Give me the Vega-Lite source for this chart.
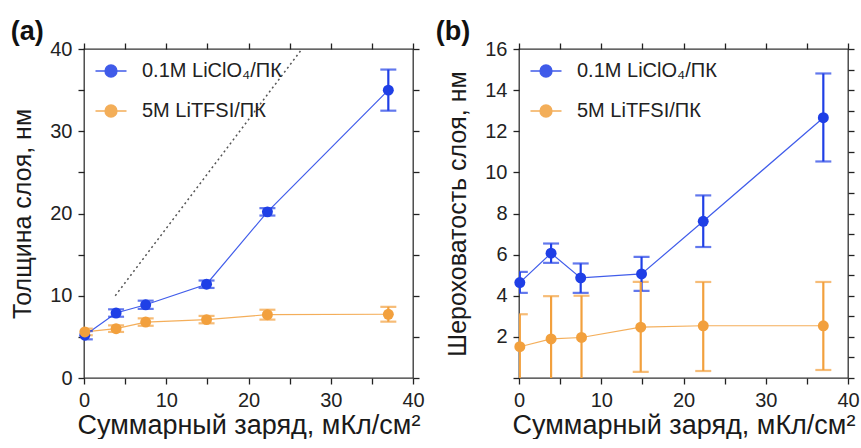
{
  "$schema": "https://vega.github.io/schema/vega-lite/v6.json",
  "padding": {"left": 10, "top": 17, "right": 0, "bottom": 0},
  "background": "white",
  "config": {
    "font": "Liberation Sans",
    "view": {"stroke": "#333", "strokeWidth": 1.3},
    "axis": {"grid": false, "domain": false, "labelFlush": false, "labelFontSize": 20, "labelColor": "#222", "titleFontWeight": "normal", "titleColor": "#1a1a1a", "labelPadding": 6},
    "axisX": {"titlePadding": 2, "titleFontSize": 27, "labelPadding": 6},
    "axisY": {"titlePadding": 14, "titleFontSize": 25},
    "title": {"fontSize": 27, "fontWeight": "bold", "color": "#111", "anchor": "start", "frame": "bounds", "offset": -7}
  },
  "datasets": {
    "guide": [{"x": 3.8, "y": 10}, {"x": 26.5, "y": 40}],
    "a": [
      {"series": "0.1M LiClO₄/ПК", "x": 0.1, "y": 5.2, "lo": 4.7, "hi": 5.7},
      {"series": "0.1M LiClO₄/ПК", "x": 3.9, "y": 7.9, "lo": 7.45, "hi": 8.35},
      {"series": "0.1M LiClO₄/ПК", "x": 7.5, "y": 8.9, "lo": 8.4, "hi": 9.4},
      {"series": "0.1M LiClO₄/ПК", "x": 14.9, "y": 11.4, "lo": 10.95, "hi": 11.85},
      {"series": "0.1M LiClO₄/ПК", "x": 22.3, "y": 20.2, "lo": 19.75, "hi": 20.65},
      {"series": "0.1M LiClO₄/ПК", "x": 37.0, "y": 35.0, "lo": 32.5, "hi": 37.5},
      {"series": "5M LiTFSI/ПК", "x": 0.1, "y": 5.6, "lo": 5.2, "hi": 6.0},
      {"series": "5M LiTFSI/ПК", "x": 3.9, "y": 6.0, "lo": 5.6, "hi": 6.4},
      {"series": "5M LiTFSI/ПК", "x": 7.5, "y": 6.8, "lo": 6.35, "hi": 7.25},
      {"series": "5M LiTFSI/ПК", "x": 14.9, "y": 7.1, "lo": 6.65, "hi": 7.55},
      {"series": "5M LiTFSI/ПК", "x": 22.3, "y": 7.7, "lo": 7.1, "hi": 8.3},
      {"series": "5M LiTFSI/ПК", "x": 37.0, "y": 7.75, "lo": 6.85, "hi": 8.65}
    ],
    "b": [
      {"series": "0.1M LiClO₄/ПК", "x": 0.1, "y": 4.64, "lo": 4.14, "hi": 5.16},
      {"series": "0.1M LiClO₄/ПК", "x": 3.9, "y": 6.07, "lo": 5.6, "hi": 6.54},
      {"series": "0.1M LiClO₄/ПК", "x": 7.5, "y": 4.87, "lo": 4.14, "hi": 5.57},
      {"series": "0.1M LiClO₄/ПК", "x": 14.9, "y": 5.06, "lo": 4.24, "hi": 5.89},
      {"series": "0.1M LiClO₄/ПК", "x": 22.4, "y": 7.62, "lo": 6.37, "hi": 8.88},
      {"series": "0.1M LiClO₄/ПК", "x": 37.0, "y": 12.66, "lo": 10.53, "hi": 14.81},
      {"series": "5M LiTFSI/ПК", "x": 0.1, "y": 1.52, "lo": -0.06, "hi": 3.1},
      {"series": "5M LiTFSI/ПК", "x": 3.9, "y": 1.9, "lo": -0.18, "hi": 3.98},
      {"series": "5M LiTFSI/ПК", "x": 7.6, "y": 1.97, "lo": -0.06, "hi": 4.0},
      {"series": "5M LiTFSI/ПК", "x": 14.8, "y": 2.47, "lo": 0.3, "hi": 4.67},
      {"series": "5M LiTFSI/ПК", "x": 22.4, "y": 2.54, "lo": 0.34, "hi": 4.67},
      {"series": "5M LiTFSI/ПК", "x": 37.0, "y": 2.54, "lo": 0.39, "hi": 4.67}
    ]
  },
  "spacing": 10,
  "resolve": {"legend": {"color": "independent"}},
  "hconcat": [
    {
      "width": 329,
      "height": 329,
      "title": {"text": "(a)", "dx": 0},
      "layer": [
        {
          "data": {"name": "a"},
          "mark": {"type": "line", "strokeWidth": 1.2, "opacity": 0.85},
          "encoding": {
            "x": {"field": "x", "type": "quantitative", "scale": {"domain": [0, 40]}, "axis": {"orient": "top", "values": [0, 5, 10, 15, 20, 25, 30, 35, 40], "labels": false, "title": null, "ticks": true, "tickColor": "#222", "tickWidth": 1.3, "tickSize": 6, "offset": 0}},
            "y": {"field": "y", "type": "quantitative", "scale": {"domain": [0, 40]}, "axis": {"orient": "right", "values": [0, 5, 10, 15, 20, 25, 30, 35, 40], "labels": false, "title": null, "ticks": true, "tickColor": "#222", "tickWidth": 1.3, "tickSize": 6, "offset": 0}},
            "color": {"field": "series", "type": "nominal", "scale": {"domain": ["0.1M LiClO₄/ПК", "5M LiTFSI/ПК"], "range": ["#1f3fe6", "#f2a03d"]}}
          }
        },
        {
          "layer": [
            {
              "data": {"name": "guide"},
              "mark": {"type": "line", "strokeDash": [2, 3], "color": "#555", "strokeWidth": 1.5, "clip": true},
              "encoding": {
                "x": {"field": "x", "type": "quantitative", "scale": {"domain": [0, 40]}, "title": "Суммарный заряд, мКл/см²"},
                "y": {"field": "y", "type": "quantitative", "scale": {"domain": [0, 40]}, "title": "Толщина слоя, нм"}
              }
            },
            {
              "data": {"name": "a"},
              "mark": {"type": "errorbar", "ticks": {"size": 16, "thickness": 2.2}, "thickness": 2.2, "clip": true},
              "encoding": {
                "x": {"field": "x", "type": "quantitative", "scale": {"domain": [0, 40]}, "title": "Суммарный заряд, мКл/см²"},
                "y": {"field": "lo", "type": "quantitative", "scale": {"domain": [0, 40]}, "title": "Толщина слоя, нм"},
                "y2": {"field": "hi"},
                "color": {"field": "series", "type": "nominal"}
              }
            },
            {
              "data": {"name": "a"},
              "mark": {"type": "point", "filled": true, "size": 120, "opacity": 1},
              "encoding": {
                "x": {"field": "x", "type": "quantitative", "scale": {"domain": [0, 40]}, "title": "Суммарный заряд, мКл/см²", "axis": {"orient": "bottom", "values": [0, 5, 10, 15, 20, 25, 30, 35, 40], "labelExpr": "datum.value % 10 ? '' : datum.label", "ticks": true, "tickColor": "#222", "tickWidth": 1.3, "tickSize": 6, "offset": 0}},
                "y": {"field": "y", "type": "quantitative", "scale": {"domain": [0, 40]}, "title": "Толщина слоя, нм", "axis": {"orient": "left", "values": [0, 5, 10, 15, 20, 25, 30, 35, 40], "labelExpr": "datum.value % 10 ? '' : datum.label", "ticks": true, "tickColor": "#222", "tickWidth": 1.3, "tickSize": 6, "offset": 0}},
                "color": {
                  "field": "series", "type": "nominal",
                  "legend": {"title": null, "orient": "none", "legendX": 17, "legendY": 12, "symbolType": "M-3.1,0H3.1M-1.2,0A1.2,1.2 0 1,0 1.2,0A1.2,1.2 0 1,0 -1.2,0Z", "symbolSize": 100, "symbolStrokeWidth": 1.3, "labelFontSize": 20, "labelOffset": 21, "rowPadding": 20, "padding": 0, "labelColor": "#222",
                    "encode": {"symbols": {"update": {"fill": {"scale": "color", "field": "value"}, "stroke": {"scale": "color", "field": "value"}, "opacity": {"value": 1}}}}}
                }
              }
            }
          ]
        }
      ]
    },
    {
      "width": 329,
      "height": 329,
      "title": {"text": "(b)", "dx": -10},
      "layer": [
        {
          "data": {"name": "b"},
          "mark": {"type": "line", "strokeWidth": 1.2, "opacity": 0.85},
          "encoding": {
            "x": {"field": "x", "type": "quantitative", "scale": {"domain": [0, 40]}, "axis": {"orient": "top", "values": [0, 5, 10, 15, 20, 25, 30, 35, 40], "labels": false, "title": null, "ticks": true, "tickColor": "#222", "tickWidth": 1.3, "tickSize": 6, "offset": 0}},
            "y": {"field": "y", "type": "quantitative", "scale": {"domain": [0, 16]}, "axis": {"orient": "right", "values": [0, 1, 2, 3, 4, 5, 6, 7, 8, 9, 10, 11, 12, 13, 14, 15, 16], "labels": false, "title": null, "ticks": true, "tickColor": "#222", "tickWidth": 1.3, "tickSize": 6, "offset": 0}},
            "color": {"field": "series", "type": "nominal"}
          }
        },
        {
          "layer": [
            {
              "data": {"name": "b"},
              "mark": {"type": "errorbar", "ticks": {"size": 16, "thickness": 2.2}, "thickness": 2.2, "clip": true},
              "encoding": {
                "x": {"field": "x", "type": "quantitative", "scale": {"domain": [0, 40]}, "title": "Суммарный заряд, мКл/см²"},
                "y": {"field": "lo", "type": "quantitative", "scale": {"domain": [0, 16]}, "title": "Шероховатость слоя, нм"},
                "y2": {"field": "hi"},
                "color": {"field": "series", "type": "nominal"}
              }
            },
            {
              "data": {"name": "b"},
              "mark": {"type": "point", "filled": true, "size": 120, "opacity": 1},
              "encoding": {
                "x": {"field": "x", "type": "quantitative", "scale": {"domain": [0, 40]}, "title": "Суммарный заряд, мКл/см²", "axis": {"orient": "bottom", "values": [0, 5, 10, 15, 20, 25, 30, 35, 40], "labelExpr": "datum.value % 10 ? '' : datum.label", "ticks": true, "tickColor": "#222", "tickWidth": 1.3, "tickSize": 6, "offset": 0}},
                "y": {"field": "y", "type": "quantitative", "scale": {"domain": [0, 16]}, "title": "Шероховатость слоя, нм", "axis": {"orient": "left", "values": [0, 1, 2, 3, 4, 5, 6, 7, 8, 9, 10, 11, 12, 13, 14, 15, 16], "labelExpr": "(datum.value % 2 || datum.value == 0) ? '' : datum.label", "ticks": true, "tickColor": "#222", "tickWidth": 1.3, "tickSize": 6, "offset": 0}},
                "color": {
                  "field": "series", "type": "nominal",
                  "legend": {"title": null, "orient": "none", "legendX": 17, "legendY": 12, "symbolType": "M-3.1,0H3.1M-1.2,0A1.2,1.2 0 1,0 1.2,0A1.2,1.2 0 1,0 -1.2,0Z", "symbolSize": 100, "symbolStrokeWidth": 1.3, "labelFontSize": 20, "labelOffset": 21, "rowPadding": 20, "padding": 0, "labelColor": "#222",
                    "encode": {"symbols": {"update": {"fill": {"scale": "color", "field": "value"}, "stroke": {"scale": "color", "field": "value"}, "opacity": {"value": 1}}}}}
                }
              }
            }
          ]
        }
      ]
    }
  ]
}
